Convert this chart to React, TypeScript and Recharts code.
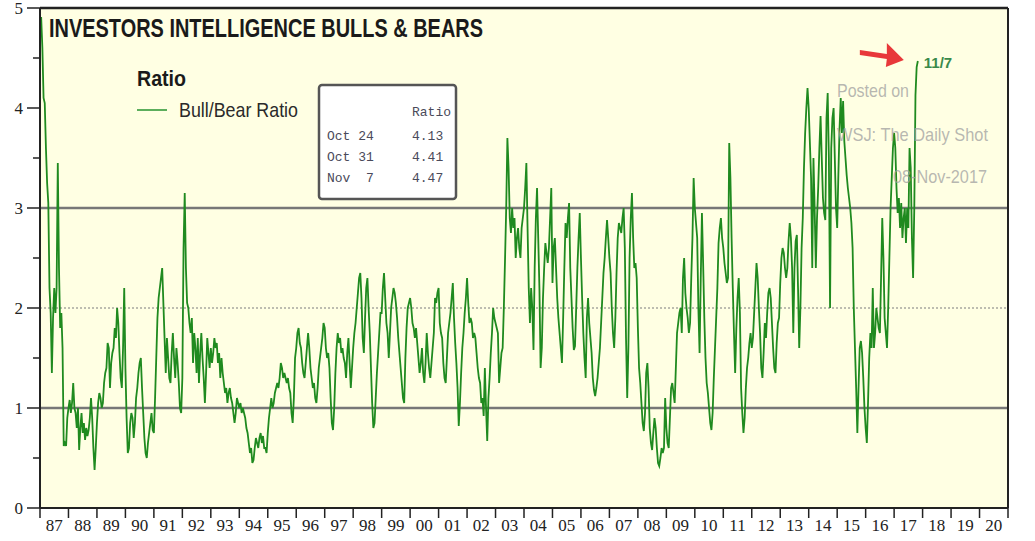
import React from 'react';
import { LineChart, Line, XAxis, YAxis, CartesianGrid, ReferenceLine, ReferenceDot } from 'recharts';

// Investors Intelligence bull/bear ratio at roughly two points per month
const START_YEAR = 1987;
const END_YEAR = 2021;
const STEPS_PER_YEAR = 24;

const r1987 = [4.9, 4.9, 4.6, 4.1, 4.05, 3.6, 3.25, 3.05, 2.2, 1.95, 1.35, 1.9, 2.2, 1.95, 2.2, 3.45, 2.4, 1.8, 1.95, 1.6, 0.62, 0.65, 0.62, 0.9];
const r1988 = [1.0, 1.08, 0.95, 1.05, 1.25, 1.0, 0.95, 0.8, 1.0, 0.58, 0.8, 0.95, 0.75, 0.85, 0.68, 0.8, 0.72, 0.78, 0.9, 1.1, 0.9, 0.6, 0.38, 0.6];
const r1989 = [0.85, 1.05, 1.15, 1.1, 1.0, 1.05, 1.25, 1.35, 1.4, 1.65, 1.6, 1.2, 1.45, 1.55, 1.6, 1.8, 1.7, 2.0, 1.85, 1.55, 1.3, 1.2, 1.6, 2.2];
const r1990 = [1.4, 0.9, 0.55, 0.6, 0.85, 0.95, 0.9, 0.7, 0.85, 1.1, 1.2, 1.35, 1.45, 1.5, 1.2, 0.95, 0.7, 0.55, 0.5, 0.65, 0.75, 0.85, 0.95, 0.78];
const r1991 = [0.75, 1.1, 1.5, 1.9, 2.1, 2.2, 2.3, 2.4, 2.05, 1.7, 1.35, 1.7, 1.5, 1.3, 1.25, 1.55, 1.75, 1.5, 1.3, 1.6, 1.45, 1.25, 1.0, 0.95];
const r1992 = [1.3, 2.6, 3.15, 2.4, 2.05, 2.0, 1.85, 1.75, 1.9, 1.45, 1.75, 1.6, 1.35, 1.7, 1.25, 1.55, 1.75, 1.5, 1.3, 1.05, 1.35, 1.7, 1.55, 1.4];
const r1993 = [1.6, 1.45, 1.55, 1.7, 1.6, 1.65, 1.45, 1.55, 1.3, 1.5, 1.35, 1.25, 1.15, 1.2, 1.05, 1.15, 1.2, 1.1, 1.05, 0.95, 0.85, 0.95, 1.1, 1.05];
const r1994 = [1.0, 1.05, 0.95, 1.0, 0.95, 0.9, 0.8, 0.75, 0.65, 0.55, 0.6, 0.45, 0.48, 0.6, 0.7, 0.65, 0.6, 0.7, 0.75, 0.65, 0.72, 0.6, 0.6, 0.55];
const r1995 = [0.75, 0.9, 1.0, 1.1, 1.0, 1.05, 1.15, 1.2, 1.25, 1.2, 1.3, 1.45, 1.4, 1.3, 1.35, 1.3, 1.25, 1.3, 1.2, 1.15, 0.95, 0.85, 1.1, 1.5];
const r1996 = [1.6, 1.75, 1.8, 1.65, 1.6, 1.45, 1.35, 1.3, 1.45, 1.6, 1.75, 1.6, 1.4, 1.3, 1.2, 1.25, 1.1, 1.05, 1.2, 1.4, 1.5, 1.6, 1.7, 1.85];
const r1997 = [1.8, 1.6, 1.5, 1.55, 1.4, 1.1, 0.85, 0.78, 1.0, 1.35, 1.6, 1.75, 1.65, 1.7, 1.55, 1.6, 1.5, 1.45, 1.3, 1.55, 1.7, 1.45, 1.2, 1.4];
const r1998 = [1.6, 1.75, 1.85, 2.0, 2.15, 2.3, 2.35, 2.1, 1.7, 1.55, 1.9, 2.2, 2.3, 2.0, 1.75, 1.4, 1.05, 0.8, 0.85, 1.1, 1.35, 1.55, 1.75, 1.95];
const r1999 = [1.95, 2.2, 2.35, 2.1, 1.85, 1.75, 1.5, 1.75, 2.0, 2.1, 2.2, 2.15, 2.05, 1.9, 1.7, 1.55, 1.4, 1.25, 1.1, 1.05, 1.5, 1.8, 2.0, 2.05];
const r2000 = [2.1, 2.0, 1.85, 1.8, 1.7, 1.8, 1.65, 1.5, 1.35, 1.45, 1.6, 1.35, 1.25, 1.45, 1.75, 1.55, 1.4, 1.3, 1.45, 1.6, 1.75, 2.1, 2.05, 2.15];
const r2001 = [2.2, 1.85, 1.75, 1.7, 1.45, 1.3, 1.25, 1.5, 1.75, 1.85, 1.95, 2.1, 2.25, 1.9, 1.65, 1.45, 1.2, 0.82, 1.05, 1.35, 1.6, 1.75, 1.95, 2.1];
const r2002 = [2.3, 2.05, 1.85, 1.9, 1.85, 1.7, 1.75, 1.7, 1.55, 1.4, 1.3, 1.25, 1.05, 1.1, 0.92, 1.4, 1.0, 0.67, 1.1, 1.3, 1.55, 1.75, 2.0, 1.9];
const r2003 = [1.85, 1.8, 1.75, 1.25, 1.4, 1.55, 1.6, 2.0, 2.48, 3.0, 3.7, 3.4, 2.9, 2.75, 3.0, 2.8, 2.9, 2.5, 2.7, 2.8, 2.6, 2.5, 2.8, 2.9];
const r2004 = [3.0, 3.2, 3.45, 2.8, 2.2, 1.85, 2.2, 2.0, 1.58, 2.4, 2.9, 3.2, 2.7, 2.2, 1.4, 1.6, 2.1, 2.4, 2.65, 2.55, 2.45, 2.6, 2.9, 3.2];
const r2005 = [2.25, 2.6, 2.7, 2.4, 2.1, 1.9, 1.75, 1.6, 1.45, 1.9, 2.4, 2.85, 2.7, 2.9, 3.05, 2.4, 2.1, 1.8, 1.58, 1.62, 2.0, 2.4, 2.7, 2.95];
const r2006 = [2.5, 2.1, 1.75, 1.5, 1.3, 1.9, 2.1, 1.85, 1.7, 1.55, 1.3, 1.18, 1.12, 1.2, 1.3, 1.45, 1.6, 1.85, 2.1, 2.35, 2.5, 2.7, 2.88, 2.7];
const r2007 = [2.5, 2.35, 2.0, 1.75, 1.6, 1.9, 2.35, 2.7, 2.85, 2.8, 2.75, 2.9, 3.0, 2.6, 1.7, 1.1, 1.6, 2.5, 2.9, 3.15, 2.7, 2.4, 2.45, 2.3];
const r2008 = [1.8, 1.4, 1.25, 1.05, 0.85, 0.77, 0.95, 1.35, 1.45, 1.2, 0.8, 0.65, 0.58, 0.75, 0.9, 0.8, 0.6, 0.45, 0.42, 0.5, 0.6, 0.55, 0.6, 1.1];
const r2009 = [0.8, 0.65, 0.6, 0.9, 1.2, 1.25, 1.15, 1.05, 1.4, 1.75, 1.85, 1.95, 2.0, 1.75, 2.3, 2.5, 2.15, 2.0, 1.9, 1.75, 1.85, 2.3, 2.7, 3.3];
const r2010 = [3.0, 2.85, 2.7, 2.0, 1.55, 2.3, 2.95, 2.45, 1.9, 1.5, 1.25, 1.15, 1.0, 0.85, 0.78, 0.95, 1.3, 1.6, 1.9, 2.2, 2.65, 2.8, 2.9, 2.7];
const r2011 = [2.6, 2.45, 2.35, 2.25, 2.3, 3.65, 3.3, 2.7, 2.2, 1.75, 1.35, 1.8, 2.1, 2.3, 1.95, 1.2, 0.95, 0.75, 0.9, 1.2, 1.4, 1.5, 1.65, 1.75];
const r2012 = [1.6, 1.7, 1.95, 2.2, 2.45, 2.3, 2.0, 1.75, 1.4, 1.3, 1.55, 1.85, 1.7, 1.95, 2.15, 2.2, 2.1, 1.85, 1.6, 1.4, 1.35, 1.65, 1.85, 1.9];
const r2013 = [2.25, 2.5, 2.6, 2.55, 2.4, 2.3, 2.4, 2.67, 2.85, 2.7, 2.4, 1.75, 2.4, 2.67, 2.73, 2.2, 1.6, 2.0, 2.6, 2.9, 3.4, 3.75, 4.0, 4.2];
const r2014 = [4.0, 3.65, 3.3, 2.4, 3.5, 3.0, 2.4, 2.9, 3.2, 3.6, 3.92, 3.5, 3.1, 2.95, 2.88, 3.9, 4.15, 3.5, 2.0, 3.6, 3.9, 4.0, 3.5, 3.0];
const r2015 = [2.8, 3.33, 3.8, 4.1, 3.75, 4.07, 3.67, 3.5, 3.33, 3.2, 3.1, 3.0, 2.85, 2.6, 2.0, 1.6, 1.2, 0.75, 1.2, 1.6, 1.67, 1.55, 1.3, 1.0];
const r2016 = [0.8, 0.65, 1.05, 1.5, 1.75, 1.6, 2.2, 1.6, 1.75, 2.0, 1.9, 1.8, 1.75, 2.3, 2.9, 2.5, 1.9, 1.75, 1.6, 2.0, 2.5, 3.0, 3.3, 3.6];
const r2017 = [3.75, 3.6, 3.2, 2.95, 3.1, 2.8, 3.05, 2.7, 2.9, 3.0, 2.65, 3.0, 2.8, 3.6, 3.4, 2.7, 2.3, 3.0, 4.13, 4.41, 4.47];

const yearSeries = [
  r1987, r1988, r1989, r1990, r1991, r1992, r1993, r1994, r1995, r1996,
  r1997, r1998, r1999, r2000, r2001, r2002, r2003, r2004, r2005, r2006,
  r2007, r2008, r2009, r2010, r2011, r2012, r2013, r2014, r2015, r2016, r2017,
];

const yearLabels = ['87', '88', '89', '90', '91', '92', '93', '94', '95', '96', '97', '98', '99', '00', '01', '02', '03', '04', '05', '06', '07', '08', '09', '10', '11', '12', '13', '14', '15', '16', '17', '18', '19', '20'];
const yearTicks = [1987, 1988, 1989, 1990, 1991, 1992, 1993, 1994, 1995, 1996, 1997, 1998, 1999, 2000, 2001, 2002, 2003, 2004, 2005, 2006, 2007, 2008, 2009, 2010, 2011, 2012, 2013, 2014, 2015, 2016, 2017, 2018, 2019, 2020, 2021];
const ratioTicks = [0, 0.5, 1, 1.5, 2, 2.5, 3, 3.5, 4, 4.5, 5];

const tableRows = [
  { date: 'Oct 24', ratio: '4.13' },
  { date: 'Oct 31', ratio: '4.41' },
  { date: 'Nov  7', ratio: '4.47' },
];

const data = yearSeries.flatMap((vals, k) =>
  vals.map((v, i) => ({ t: START_YEAR + k + i / STEPS_PER_YEAR, v }))
);
const last = data[data.length - 1];

const W = 1035;
const H = 541;
const LEFT_W = 40;
const RIGHT_W = 27;
const TOP = 8;
const X_H = 33;
const YEAR_PX = (W - LEFT_W - RIGHT_W) / (END_YEAR - START_YEAR);

const GREEN = '#1f8a1f';
const AXIS = '#222';

function YearTick(props: any) {
  const { x, y, payload } = props;
  const idx = yearTicks.indexOf(payload.value);
  const label = yearLabels[idx];
  if (!label) return <g />;
  return (
    <text x={x + YEAR_PX / 2} y={y} dy={11} textAnchor="middle"
      style={{ fontFamily: '"Liberation Serif", serif', fontSize: 17, fill: '#222' }}>
      {label}
    </text>
  );
}

function RatioTick(props: any) {
  const { x, y, payload, side } = props;
  const major = Number.isInteger(payload.value);
  const len = major ? 13 : 7;
  const dir = side === 'left' ? -1 : 1;
  return (
    <g>
      <line x1={x} x2={x + dir * len} y1={y} y2={y} stroke={AXIS} strokeWidth={1.5} />
      {major && (
        <text x={x + dir * 17} y={y} dy={6} textAnchor={side === 'left' ? 'end' : 'start'}
          style={{ fontFamily: '"Liberation Serif", serif', fontSize: 17, fill: '#222' }}>
          {payload.value}
        </text>
      )}
    </g>
  );
}

function LastMark(props: any) {
  const { cx, cy } = props;
  const arrow = [
    [-58, -11], [-31, -7], [-31, -18], [-14, -1], [-32, 6], [-31, -2], [-58, -6],
  ].map(([dx, dy]) => `${cx + dx},${cy + dy}`).join(' ');
  return (
    <g>
      <polygon points={arrow} fill="#e8383a" />
      <text x={cx + 6} y={cy + 7} style={{ fontFamily: '"Liberation Sans", sans-serif', fontSize: 15, fontWeight: 700, fill: '#3a8a4a' }}>
        11/7
      </text>
    </g>
  );
}

export default function App() {
  return (
    <div style={{ position: 'absolute', left: 0, top: 0, width: W, height: H, background: '#fff' }}>
      <LineChart width={W} height={H} data={data} margin={{ top: TOP, right: 0, bottom: 0, left: 0 }}>
        <CartesianGrid horizontal={false} vertical={false} fill="#FFFFE3" />
        <XAxis
          dataKey="t"
          type="number"
          domain={[START_YEAR, END_YEAR]}
          ticks={yearTicks}
          interval={0}
          height={X_H}
          tickSize={10}
          tickMargin={2}
          axisLine={{ stroke: AXIS, strokeWidth: 2 }}
          tickLine={{ stroke: AXIS, strokeWidth: 1.5 }}
          tick={<YearTick />}
          allowDataOverflow
        />
        <YAxis
          yAxisId="l"
          domain={[0, 5]}
          ticks={ratioTicks}
          interval={0}
          width={LEFT_W}
          tickLine={false}
          tickSize={0}
          tickMargin={0}
          axisLine={{ stroke: AXIS, strokeWidth: 2 }}
          tick={<RatioTick side="left" />}
        />
        <YAxis
          yAxisId="r"
          orientation="right"
          domain={[0, 5]}
          ticks={ratioTicks}
          interval={0}
          width={RIGHT_W}
          tickLine={false}
          tickSize={0}
          tickMargin={0}
          axisLine={{ stroke: AXIS, strokeWidth: 2 }}
          tick={<RatioTick side="right" />}
        />
        <ReferenceLine yAxisId="l" y={1} stroke="#777" strokeWidth={2.5} />
        <ReferenceLine yAxisId="l" y={2} stroke="#a8a8a0" strokeWidth={1.5} strokeDasharray="2 2" />
        <ReferenceLine yAxisId="l" y={3} stroke="#777" strokeWidth={2.5} />
        <ReferenceLine yAxisId="l" y={5} stroke={AXIS} strokeWidth={2.5} />
        <Line
          yAxisId="l"
          type="linear"
          dataKey="v"
          stroke={GREEN}
          strokeWidth={1.8}
          dot={false}
          isAnimationActive={false}
        />
        <ReferenceDot yAxisId="l" x={last.t} y={last.v} r={0} shape={(p: any) => <LastMark {...p} />} />
      </LineChart>

      <svg width={W} height={H} style={{ position: 'absolute', left: 0, top: 0, pointerEvents: 'none' }}>
        <text x={49} y={37} textLength={434} lengthAdjust="spacingAndGlyphs"
          style={{ fontFamily: '"Liberation Sans", sans-serif', fontSize: 26, fontWeight: 700, fill: '#1a1a1a' }}>
          INVESTORS INTELLIGENCE BULLS &amp; BEARS
        </text>
        <text x={137} y={86} textLength={49} lengthAdjust="spacingAndGlyphs"
          style={{ fontFamily: '"Liberation Sans", sans-serif', fontSize: 22, fontWeight: 700, fill: '#1a1a1a' }}>
          Ratio
        </text>
        <line x1={137} x2={167} y1={110} y2={110} stroke="#5cae5c" strokeWidth={2} />
        <text x={179} y={117} textLength={119} lengthAdjust="spacingAndGlyphs"
          style={{ fontFamily: '"Liberation Sans", sans-serif', fontSize: 21, fill: '#2a2a2a' }}>
          Bull/Bear Ratio
        </text>

        <rect x={319} y={85} width={137} height={114} rx={3} fill="#fff" stroke="#555" strokeWidth={2.5} />
        <g style={{ fontFamily: '"Liberation Mono", monospace', fontSize: 13, fill: '#4a4a5a' }}>
          <text x={412} y={116}>Ratio</text>
          {tableRows.map((row, i) => (
            <g key={row.date}>
              <text x={327} y={140 + i * 21} xmlSpace="preserve">{row.date}</text>
              <text x={412} y={140 + i * 21}>{row.ratio}</text>
            </g>
          ))}
        </g>

        <g style={{ fontFamily: '"Liberation Sans", sans-serif', fontSize: 19, fill: 'rgba(160,160,160,0.75)' }}>
          <text x={837} y={97} textLength={72} lengthAdjust="spacingAndGlyphs">Posted on</text>
          <text x={837} y={141} textLength={151} lengthAdjust="spacingAndGlyphs">WSJ: The Daily Shot</text>
          <text x={893} y={183} textLength={94} lengthAdjust="spacingAndGlyphs">08-Nov-2017</text>
        </g>
      </svg>
    </div>
  );
}
